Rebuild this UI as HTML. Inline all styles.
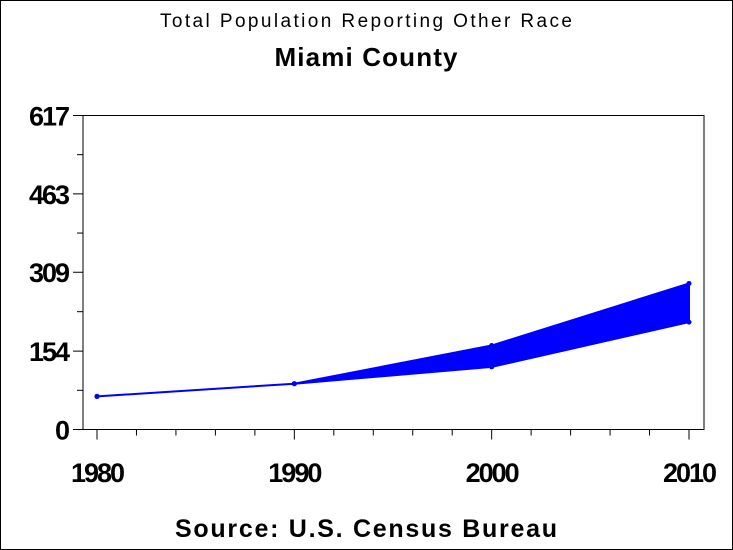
<!DOCTYPE html>
<html><head><meta charset="utf-8"><style>
html,body{margin:0;padding:0;background:#fff;}
svg{display:block;font-family:"Liberation Sans",Arial,sans-serif;}
</style></head><body>
<svg id="chart" width="733" height="550" viewBox="0 0 733 550">
<rect x="0.5" y="0.5" width="732" height="549" fill="#fff" stroke="#000"/>
<text x="366" y="27" text-anchor="middle" font-size="19" textLength="412" lengthAdjust="spacing">Total Population Reporting Other Race</text>
<text x="366" y="66" text-anchor="middle" font-size="26" font-weight="bold" textLength="183" lengthAdjust="spacing">Miami County</text>
<text x="366" y="537" text-anchor="middle" font-size="25" font-weight="bold" textLength="382" lengthAdjust="spacing">Source: U.S. Census Bureau</text>
<rect x="83" y="115.5" width="621" height="314" fill="none" stroke="#000"/>
<g id="ticks"></g>
<g id="marks"></g>
</svg>
<script>
const years=[1980,1990,2000,2010];
const upperValues=[65,90,165,287];
const lowerValues=[65,90,123,211];
const yTickLabels=[0,154,309,463,617];
const yMax=617, yMin=0;
const NS="http://www.w3.org/2000/svg";
const plotTop=115.5, plotBottom=429.5;
function xScale(yr){return 97+(yr-1980)*(689-97)/30;}
function yScale(v){return plotBottom-(v-yMin)/(yMax-yMin)*(plotBottom-plotTop);}
function mk(tag,attrs,parent){const e=document.createElementNS(NS,tag);for(const k in attrs)e.setAttribute(k,attrs[k]);parent.appendChild(e);return e;}
const tg=document.getElementById('ticks');
for(let i=0;i<yTickLabels.length;i++){
  const v=yTickLabels[i],y=yScale(v);
  const l=mk('line',{x1:73,x2:83,y1:y,y2:y,stroke:'#000'},tg);
  
  
  const t=mk('text',{x:68,y:y+10,'text-anchor':'end','font-size':27,'font-weight':'bold','letter-spacing':'-2'},tg);
  t.textContent=v;
  
  
  if(i<yTickLabels.length-1){
    const ym=yScale((v+yTickLabels[i+1])/2);
    const m=mk('line',{x1:77,x2:83,y1:ym,y2:ym,stroke:'#000'},tg);
    
    
  }
}
for(let yr=1980;yr<=2010;yr+=2){
  const x=xScale(yr);const major=(yr%10===0);
  const l=mk('line',{x1:x,x2:x,y1:plotBottom,y2:plotBottom+(major?10:6),stroke:'#000'},tg);
  
  
}
years.forEach(yr=>{
  const t=mk('text',{x:xScale(yr),y:482,'text-anchor':'middle','font-size':27,'font-weight':'bold','letter-spacing':'-2'},tg);
  t.textContent=yr;
  
  
});
const mg=document.getElementById('marks');
let pts=years.map((yr,i)=>xScale(yr)+','+yScale(upperValues[i]));
for(let i=years.length-1;i>=0;i--)pts.push(xScale(years[i])+','+yScale(lowerValues[i]));
const band=mk('polygon',{points:pts.join(' '),fill:'#0000ff',stroke:'#0000ff','stroke-width':2},mg);


years.forEach((yr,i)=>{
  [upperValues[i],lowerValues[i]].forEach(v=>{
    const c=mk('circle',{cx:xScale(yr),cy:yScale(v),r:2.5,fill:'#0000ff'},mg);
    
    
  });
});
</script>
</body></html>
